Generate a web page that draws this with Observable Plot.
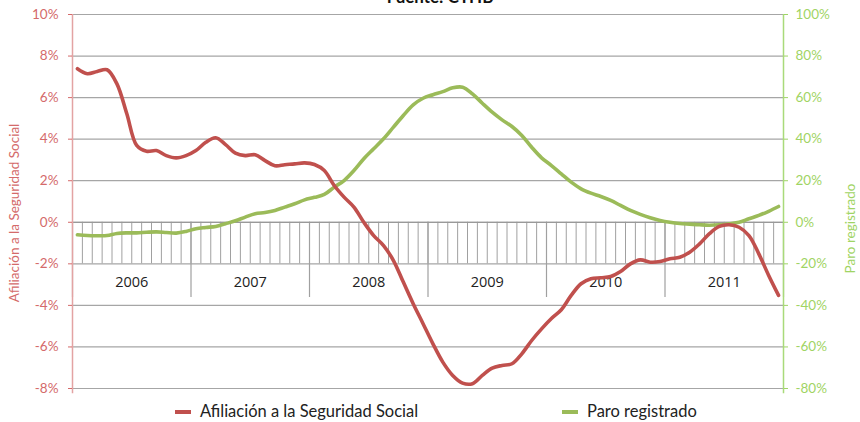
<!DOCTYPE html>
<html><head><meta charset="utf-8">
<script src="https://cdn.jsdelivr.net/npm/d3@7"></script>
<script src="https://cdn.jsdelivr.net/npm/@observablehq/plot@0.6"></script>
<style>
body{margin:0;background:#fff;font-family:Lato,sans-serif;}
#wrap{position:relative;width:860px;height:422px;overflow:hidden;}
#title{position:absolute;top:-13px;left:0;width:880px;text-align:center;font-weight:bold;font-size:17px;color:#111;line-height:20px;}
#chart{position:absolute;top:0;left:0;}
.leg{position:absolute;top:401px;font-size:16.5px;color:#222;white-space:nowrap;line-height:20px;}
.sw{position:absolute;top:410px;height:4px;width:16px;}
</style></head><body>
<div id="wrap">
<div id="chart"></div>
<div id="title">Fuente: CTHB</div>
<div class="sw" style="left:175px;background:#c0504d"></div>
<div class="leg" style="left:200px">Afiliación a la Seguridad Social</div>
<div class="sw" style="left:562px;background:#9bbb59"></div>
<div class="leg" style="left:587px">Paro registrado</div>
</div>
<script>
const years = ["2006","2007","2008","2009","2010","2011"];
const leftTicks = [-8,-6,-4,-2,0,2,4,6,8,10];
const rightTicks = [-80,-60,-40,-20,0,20,40,60,80,100];
const leftTitle = "Afiliación a la Seguridad Social";
const rightTitle = "Paro registrado";
// Afiliación a la Seguridad Social, % (left axis), monthly 2006-2011
const afiliacion = [7.39,7.15,7.26,7.34,6.66,5.22,3.70,3.42,3.45,3.21,3.10,3.21,
  3.45,3.85,4.07,3.74,3.33,3.21,3.25,2.97,2.72,2.77,2.81,2.86,
  2.78,2.49,1.77,1.21,0.73,0.0,-0.64,-1.12,-1.84,-2.88,-3.92,-4.88,
  -5.85,-6.73,-7.37,-7.74,-7.77,-7.37,-7.02,-6.89,-6.81,-6.33,-5.69,-5.13,
  -4.63,-4.21,-3.52,-2.96,-2.72,-2.67,-2.61,-2.37,-2.0,-1.81,-1.92,-1.89,
  -1.76,-1.68,-1.44,-1.04,-0.55,-0.20,-0.12,-0.24,-0.64,-1.52,-2.56,-3.52];
// Paro registrado, % (right axis), monthly 2006-2011
const paro = [-6.0,-6.4,-6.5,-6.4,-5.4,-5.1,-5.1,-4.8,-4.6,-4.9,-5.2,-4.4,
  -3.1,-2.5,-2.0,-0.7,0.7,2.5,4.1,4.7,5.7,7.3,8.9,10.8,
  12.0,13.4,16.9,20.1,24.9,30.6,35.4,40.2,45.8,51.4,56.5,59.7,
  61.4,62.9,64.7,65.0,61.8,57.3,53.0,49.3,46.1,41.8,36.1,31.0,
  27.3,23.3,19.3,16.1,14.0,12.4,10.5,8.1,5.7,3.8,2.2,0.9,
  0.0,-0.6,-0.9,-1.2,-1.4,-1.2,-0.7,0.0,1.7,3.3,5.3,7.6];

const ratio = 10; // right axis = left axis * 10
const nMonths = afiliacion.length;
const afData = afiliacion.map((v,i)=>({m:i+0.5, v}));
const paData = paro.map((v,i)=>({m:i+0.5, v:v/ratio}));
const monthBounds = d3.range(1, nMonths);
const yearBounds = d3.range(0, years.length+1).map(i=>i*12);
const yearData = years.map((y,i)=>({m:i*12+6, label:y}));

const red = "#c0504d", green = "#9bbb59";
const redTxt = "#d46a6a", greenTxt = "#9fd464";
const font = "Lato, sans-serif";

const chart = Plot.plot({
  width: 860, height: 400,
  marginLeft: 72, marginRight: 77, marginTop: 14, marginBottom: 12,
  style: {fontFamily: font, background: "transparent"},
  x: {domain: [0, nMonths], axis: null},
  y: {domain: [-8, 10], axis: null},
  marks: [
    Plot.ruleY(leftTicks, {stroke: "#a6a6a6", strokeWidth: 1.2}),
    Plot.ruleX(monthBounds, {y1: 0, y2: -2, stroke: "#a0a0a0", strokeWidth: 1}),
    Plot.ruleX(yearBounds, {y1: 0, y2: -3.62, stroke: "#a0a0a0", strokeWidth: 1.2}),
    Plot.ruleY([0], {stroke: "#999", strokeWidth: 1.2}),
    Plot.text(yearData, {x: "m", y: -2.9, text: "label", fontSize: 14.5, fill: "#222", fontFamily: "'Open Sans', sans-serif"}),
    Plot.line(paData, {x: "m", y: "v", stroke: green, strokeWidth: 3.6, curve: "catmull-rom"}),
    Plot.line(afData, {x: "m", y: "v", stroke: red, strokeWidth: 3.6, curve: "catmull-rom"}),
    Plot.ruleX([0], {y1: 10, y2: -8.25, stroke: "#e3a3a3", strokeWidth: 1.5}),
    Plot.ruleX([nMonths], {y1: 10, y2: -8.25, stroke: "#a9da7a", strokeWidth: 1.5}),
    Plot.axisY(leftTicks, {anchor: "left", tickFormat: d => d + "%", tickSize: 4, tickPadding: 10, color: redTxt, fontSize: 13.5, label: null}),
    Plot.axisY(leftTicks, {anchor: "right", tickFormat: d => (d*ratio) + "%", tickSize: 4, tickPadding: 8, color: greenTxt, fontSize: 13.5, label: null}),
    Plot.text([leftTitle], {frameAnchor: "left", dx: -58, y: [0.45], rotate: -90, textAnchor: "middle", fill: redTxt, fontSize: 13.5}),
    Plot.text([rightTitle], {frameAnchor: "right", dx: 67, y: [-0.3], rotate: -90, textAnchor: "middle", fill: greenTxt, fontSize: 13.5})
  ]
});
document.getElementById("chart").appendChild(chart);
</script>
</body></html>
